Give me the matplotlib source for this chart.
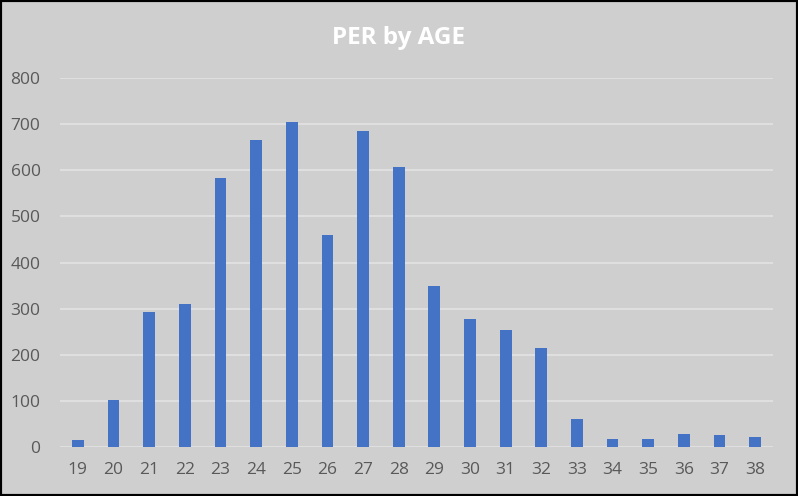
import matplotlib
matplotlib.use("Agg")
import numpy as np
import matplotlib.pyplot as plt
from matplotlib.patches import Rectangle

ages = [str(a) for a in range(19, 39)]
per = [15, 102, 293, 309, 583, 665, 704, 459, 685, 607,
       348, 278, 254, 215, 61, 17, 17, 29, 26, 22]

bg = "#d0cfcf"
barColor = "#4472c4"
gridColor = "#e2e1e1"
textColor = "#595959"

plt.rcParams["font.family"] = ["Open Sans", "DejaVu Sans"]

fig = plt.figure(figsize=(7.98, 4.96), dpi=100, facecolor=bg)
ax = fig.add_axes([0.0752, 0.0988, 0.8935, 0.7439])
ax.set_facecolor(bg)

x = np.arange(len(ages))
ax.bar(x, per, width=0.33, color=barColor, zorder=3)

ax.set_xlim(-0.5, len(ages) - 0.5)
ax.set_ylim(0, 800)
ax.set_yticks(np.arange(0, 801, 100))
ax.set_xticks(x)
ax.set_xticklabels(ages)
ax.grid(axis="y", color=gridColor, linewidth=1.3, zorder=0)
for s in ax.spines.values():
    s.set_visible(False)
ax.tick_params(axis="both", length=0, colors=textColor, labelsize=12.5)
ax.tick_params(axis="y", pad=14)
ax.tick_params(axis="x", pad=11)

fig.text(0.5, 0.924, "PER by AGE", ha="center", va="center",
         color="white", fontsize=17.5, fontweight="bold")

# black frame round the figure
fig.patches.append(Rectangle((0, 0), 1, 1, transform=fig.transFigure,
                             fill=False, edgecolor="black", linewidth=3))

fig.savefig("out.png", dpi=100, facecolor=bg)
